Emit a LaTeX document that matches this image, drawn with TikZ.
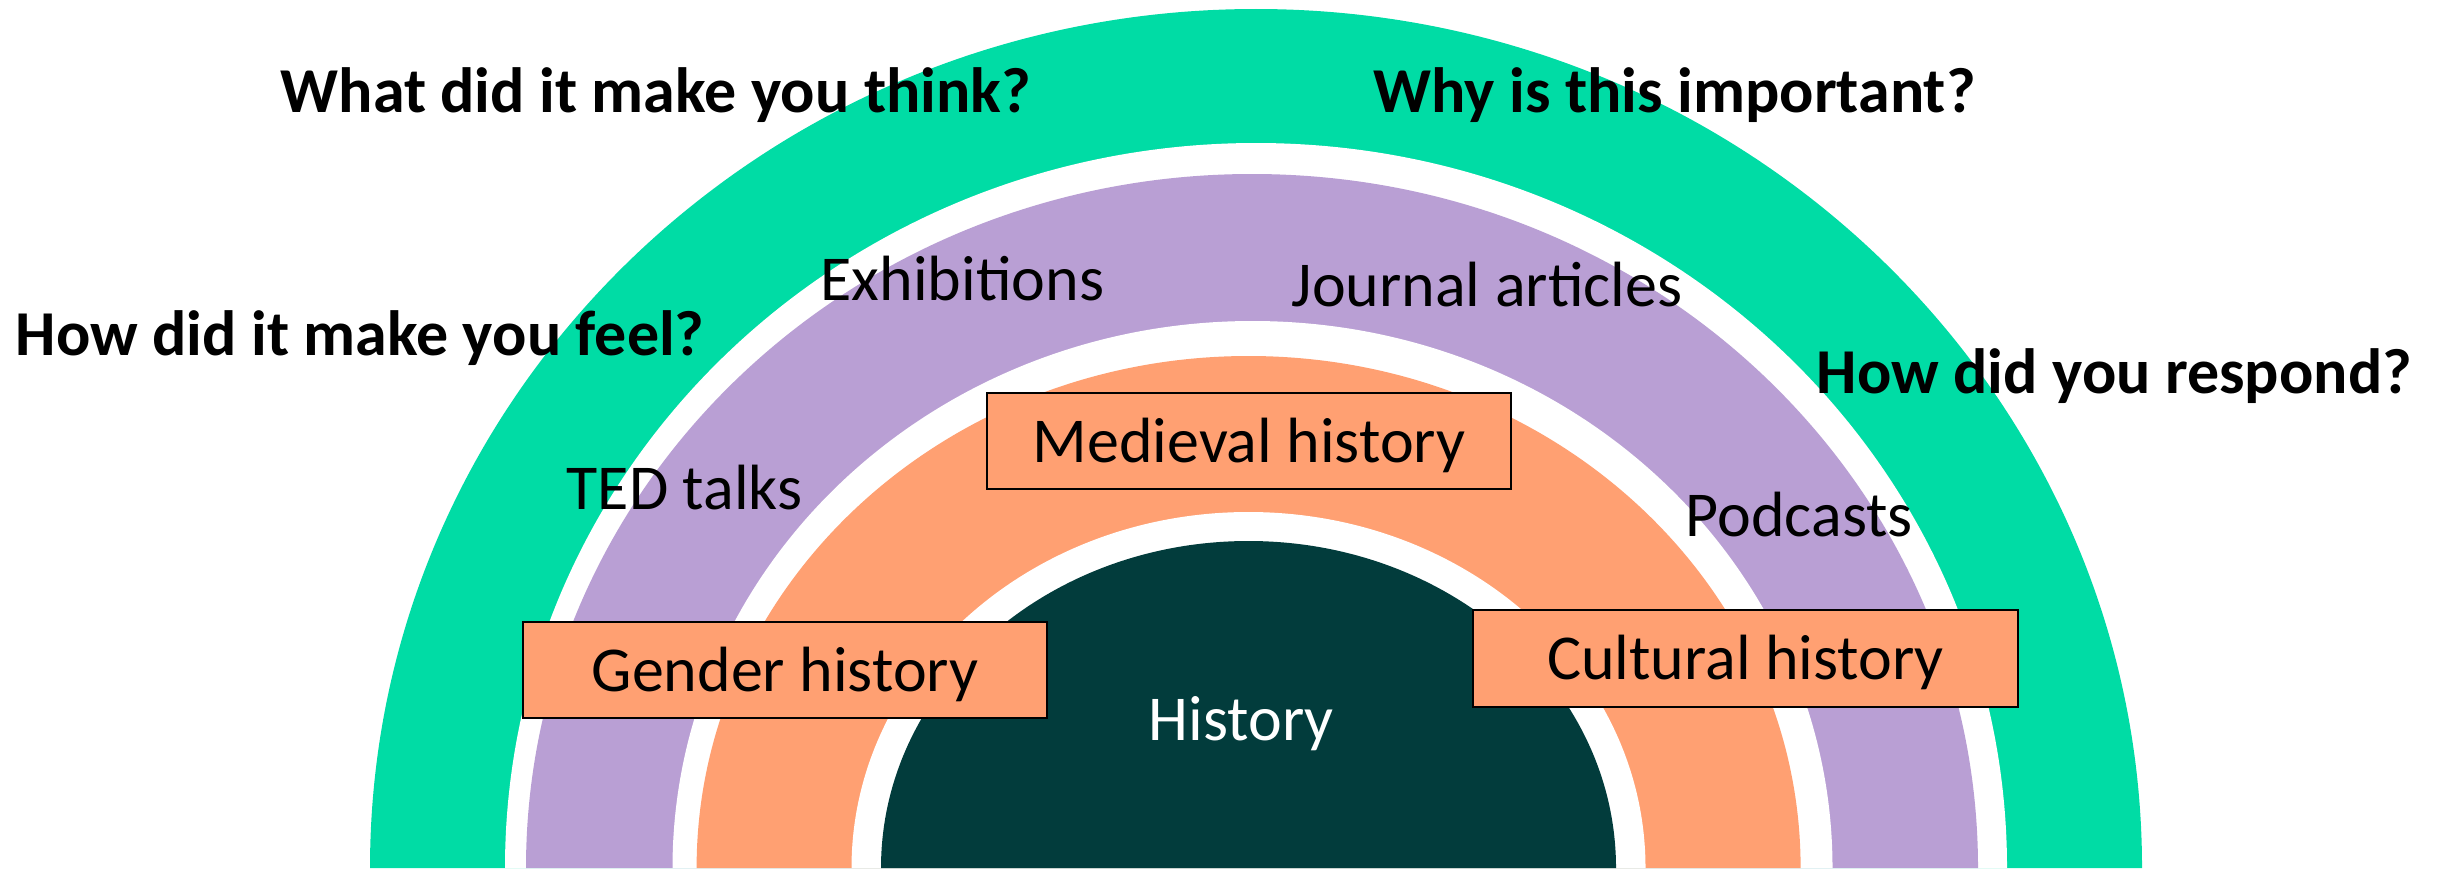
\documentclass[tikz,border=0pt]{standalone}
\usepackage{fontspec}
\setmainfont{Carlito}
\usepackage{tikz}
\usetikzlibrary{positioning}

\definecolor{ringgreen}{HTML}{00DCA5}
\definecolor{ringpurple}{HTML}{B99FD4}
\definecolor{ringorange}{HTML}{FFA072}
\definecolor{ringdark}{HTML}{023C3C}

\begin{document}
\begin{tikzpicture}[
        font=\fontsize{18.2}{22}\selectfont,
        label/.style={anchor=base west, inner sep=0pt},
        question/.style={label, font=\fontsize{18.2}{22}\selectfont\bfseries},
        topic/.style={draw=black, line width=0.6pt, fill=ringorange, inner sep=0pt,
                      minimum width=5.24cm, minimum height=0.96cm,
                      text height=0.5cm, text depth=0.08cm}
    ]
        \useasboundingbox (0,0) rectangle (24.4,8.68);

        % --- Arcos del arcoiris (de fuera hacia dentro) ---
        \fill[ringgreen] (3.70,0) arc (180:0:8.86 and 8.59) -- cycle; % Exterior
        \fill[white] (5.05,0) arc (180:0:7.51 and 7.25) -- cycle;
        \fill[ringpurple] (5.26,0) arc (180:0:7.26 and 6.94) -- cycle; % Fuentes
        \fill[white] (6.725,0) arc (180:0:5.80 and 5.47) -- cycle;
        \fill[ringorange] (6.966,0) arc (180:0:5.52 and 5.12) -- cycle; % Temas
        \fill[white] (8.515,0) arc (180:0:3.97 and 3.56) -- cycle;
        \fill[ringdark] (8.81,0) arc (180:0:3.675 and 3.27) -- cycle; % Centro

        % --- Preguntas ---
        \node[question] (think) at (2.80,7.56) {What did it make you think?};
        \node[question] (important) at (13.73,7.56) {Why is this important?};
        \node[question] (feel) at (0.15,5.13) {How did it make you feel?};
        \node[question] (respond) at (18.16,4.75) {How did you respond?};

        % --- Fuentes ---
        \node[label] (exhib) at (8.20,5.68) {Exhibitions};
        \node[label] (journal) at (12.91,5.62) {Journal articles};
        \node[label] (ted) at (5.66,3.59) {TED talks};
        \node[label] (podcasts) at (16.85,3.32) {Podcasts};

        % --- Temas ---
        \node[topic] (medieval) at (12.49,4.27) {Medieval history};
        \node[topic] (gender) at (7.85,1.98) {Gender history};
        \node[topic, minimum width=5.45cm, minimum height=0.97cm] (cultural) at (17.455,2.095) {Cultural history};

        % Centro
        \node[label, white] (history) at (11.48,1.28) {History};

    \end{tikzpicture}
\end{document}
